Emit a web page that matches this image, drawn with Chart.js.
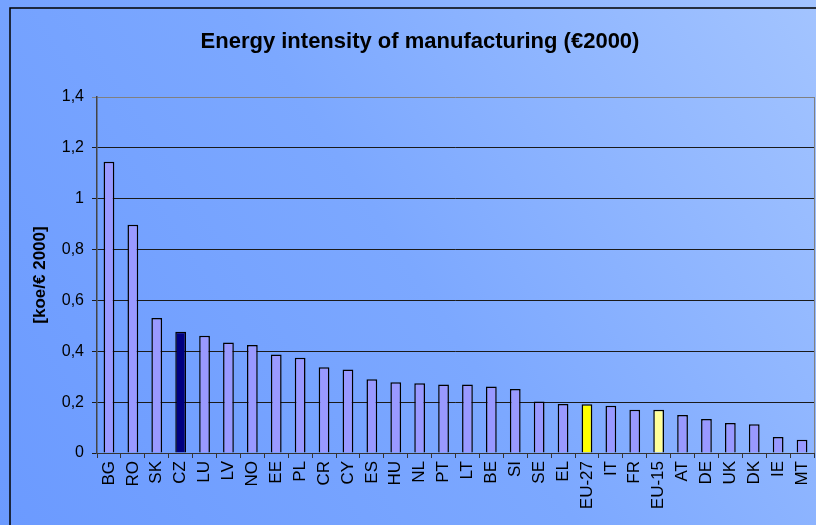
<!DOCTYPE html>
<html>
<head>
<meta charset="utf-8">
<script src="https://cdn.jsdelivr.net/npm/chart.js@4/dist/chart.umd.min.js"></script>
<style>
html,body{margin:0;padding:0;background:#7aa5ff;}
#wrap{width:816px;height:525px;}
</style>
</head>
<body>
<div id="wrap"><canvas id="c" width="816" height="525"></canvas></div>
<script>
const categories = ['BG','RO','SK','CZ','LU','LV','NO','EE','PL','CR','CY','ES','HU','NL','PT','LT','BE','SI','SE','EL','EU-27','IT','FR','EU-15','AT','DE','UK','DK','IE','MT'];
const values = [1.145,0.898,0.531,0.477,0.461,0.435,0.425,0.387,0.375,0.337,0.328,0.290,0.278,0.274,0.269,0.269,0.262,0.252,0.203,0.193,0.192,0.186,0.170,0.170,0.149,0.134,0.118,0.113,0.063,0.052];
const highlightColors = {'CZ':'#000080','EU-27':'#FFFF00','EU-15':'#FFFF99'};
const defaultColor = '#9999FF';
const chartTitle = 'Energy intensity of manufacturing (€2000)';
const yTitle = '[koe/€ 2000]';

const barColors = categories.map(c => highlightColors[c] || defaultColor);

const bgPlugin = {
  id: 'bg',
  beforeDraw(chart) {
    const ctx = chart.ctx, w = chart.width, h = chart.height;
    ctx.save();
    const g = ctx.createLinearGradient(0, h, w, 0);
    g.addColorStop(0, '#6b9aff');
    g.addColorStop(0.5, '#7ca8ff');
    g.addColorStop(1, '#a3c4ff');
    ctx.fillStyle = g;
    ctx.fillRect(0, 0, w, h);
    ctx.strokeStyle = '#000';
    ctx.lineWidth = 1.5;
    ctx.strokeRect(10, 8, w + 20, h + 20);
    ctx.restore();
  },
  afterDraw(chart) {
    const a = chart.chartArea, ctx = chart.ctx;
    ctx.save();
    ctx.strokeStyle = '#808080';
    ctx.lineWidth = 1;
    ctx.beginPath();
    ctx.moveTo(Math.round(a.right) + 0.5, a.top);
    ctx.lineTo(Math.round(a.right) + 0.5, a.bottom);
    ctx.stroke();
    ctx.restore();
  }
};

new Chart(document.getElementById('c'), {
  type: 'bar',
  data: {
    labels: categories,
    datasets: [{
      data: values,
      backgroundColor: barColors,
      borderColor: '#000',
      borderWidth: 1.5,
      barPercentage: 0.45,
      categoryPercentage: 1.0
    }]
  },
  options: {
    responsive: false,
    animation: false,
    devicePixelRatio: 1,
    layout: { padding: { left: 26, right: 2, top: 0, bottom: 0 } },
    plugins: {
      legend: { display: false },
      tooltip: { enabled: false },
      title: {
        display: true,
        text: chartTitle,
        color: '#000',
        font: { family: 'Arial, "Liberation Sans", sans-serif', size: 22, weight: 'bold' },
        padding: { top: 29, bottom: 41.6 }
      }
    },
    scales: {
      x: {
        afterFit(scale) { scale.height = 72; scale.paddingLeft = 0; scale.paddingRight = 0; },
        ticks: {
          color: '#000',
          minRotation: 90,
          maxRotation: 90,
          autoSkip: false,
          padding: 3,
          font: { family: 'Arial, "Liberation Sans", sans-serif', size: 17 }
        },
        grid: { offset: true, drawOnChartArea: false, drawTicks: true, tickLength: 5, color: '#333' },
        border: { color: '#333', width: 1 }
      },
      y: {
        min: 0,
        max: 1.4,
        afterFit(scale) { scale.width = 71; scale.paddingTop = 0; scale.paddingBottom = 0; },
        ticks: {
          stepSize: 0.2,
          color: '#000',
          padding: 8,
          font: { family: 'Arial, "Liberation Sans", sans-serif', size: 16 },
          callback: v => String(Math.round(v * 10) / 10).replace('.', ',')
        },
        grid: {
          color: ctx => (ctx.tick && Math.abs(ctx.tick.value - 1.4) < 1e-6) ? '#808080' : '#1a1a1a',
          tickLength: 5,
          lineWidth: 1
        },
        border: { color: '#444', width: 1.5 },
        title: {
          display: true,
          text: yTitle,
          color: '#000',
          font: { family: 'Arial, "Liberation Sans", sans-serif', size: 17, weight: 'bold' },
          padding: { top: 4, bottom: 0 }
        }
      }
    }
  },
  plugins: [bgPlugin]
});
</script>
</body>
</html>
